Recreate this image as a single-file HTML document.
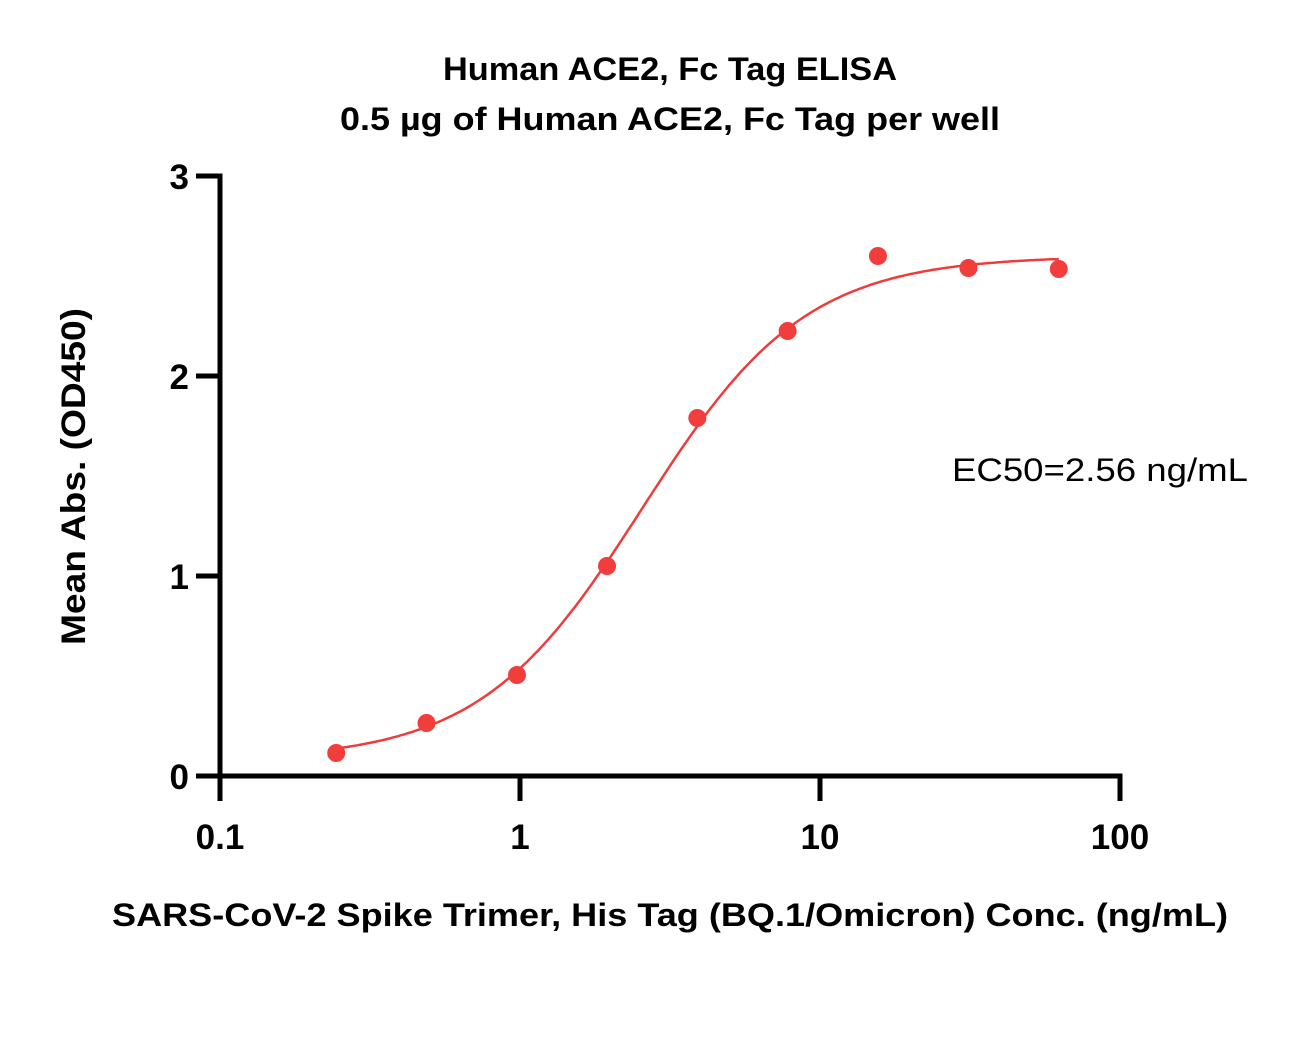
<!DOCTYPE html>
<html><head><meta charset="utf-8"><style>
body{margin:0;background:#fff}
svg text{font-family:"Liberation Sans",sans-serif;fill:#000}
</style></head><body>
<svg width="1292" height="1032" viewBox="0 0 1292 1032">
<text x="443" y="80" font-size="32" font-weight="bold" textLength="454" lengthAdjust="spacingAndGlyphs">Human ACE2, Fc Tag ELISA</text>
<text x="340" y="130" font-size="32" font-weight="bold" textLength="660" lengthAdjust="spacingAndGlyphs">0.5 µg of Human ACE2, Fc Tag per well</text>
<g id="axes"></g>
<g id="marks"></g>
<text x="952" y="481" font-size="32" textLength="296" lengthAdjust="spacingAndGlyphs">EC50=2.56 ng/mL</text>
<text x="112" y="926" font-size="32" font-weight="bold" textLength="1116" lengthAdjust="spacingAndGlyphs">SARS-CoV-2 Spike Trimer, His Tag (BQ.1/Omicron) Conc. (ng/mL)</text>
<text transform="translate(85,645) rotate(-90)" font-size="34" font-weight="bold" textLength="337" lengthAdjust="spacingAndGlyphs">Mean Abs. (OD450)</text>
</svg>
<script>
const xs=[0.244,0.488,0.977,1.95,3.9,7.8,15.6,31.25,62.5];
const ys=[0.115,0.265,0.505,1.05,1.79,2.225,2.6,2.54,2.535];
const xTicks=[0.1,1,10,100];
const xTickLabels=["0.1","1","10","100"];
const yTicks=[0,1,2,3];
const yTickLabels=["0","1","2","3"];
const fitBottom=0.08, fitTop=2.6, fitEC50=2.56, fitHill=1.6;
const NS="http://www.w3.org/2000/svg";
const X=v=>220+(Math.log10(v)+1)*300;
const Y=v=>776-v*200;
function mk(t,a,p){const e=document.createElementNS(NS,t);for(const k in a)e.setAttribute(k,a[k]);p.appendChild(e);return e;}
const ax=document.getElementById('axes'), mg=document.getElementById('marks');
let l=mk('line',{x1:220,y1:Y(3)-2.5,x2:220,y2:801,stroke:'#000','stroke-width':5},ax);

l=mk('line',{x1:196,y1:776,x2:X(100)+2.5,y2:776,stroke:'#000','stroke-width':5},ax);

yTicks.forEach((v,i)=>{
 const t=mk('line',{x1:196,y1:Y(v),x2:220,y2:Y(v),stroke:'#000','stroke-width':5},ax);
 
 const tx=mk('text',{x:189,y:Y(v)+13,'text-anchor':'end','font-size':35,'font-weight':'bold'},ax);
 tx.textContent=yTickLabels[i];
 
});
xTicks.forEach((v,i)=>{
 const x=X(v);
 const t=mk('line',{x1:x,y1:776,x2:x,y2:801,stroke:'#000','stroke-width':5},ax);
 
 const tx=mk('text',{x:X(v),y:849,'text-anchor':'middle','font-size':35,'font-weight':'bold'},ax);
 tx.textContent=xTickLabels[i];
 
});
const f=x=>fitBottom+(fitTop-fitBottom)/(1+Math.pow(fitEC50/x,fitHill));
let d='';const a=Math.log10(xs[0]),b=Math.log10(xs[xs.length-1]);
for(let i=0;i<=200;i++){const lx=a+(b-a)*i/200,x=Math.pow(10,lx);d+=(i?'L':'M')+X(x).toFixed(1)+','+Y(f(x)).toFixed(1);}
const c=mk('path',{d:d,fill:'none',stroke:'#ee3c3c','stroke-width':2.5},mg);

xs.forEach((x,i)=>{
 const p=mk('circle',{cx:X(x),cy:Y(ys[i]),r:9,fill:'#f23d3d'},mg);
 
});
</script>
</body></html>
